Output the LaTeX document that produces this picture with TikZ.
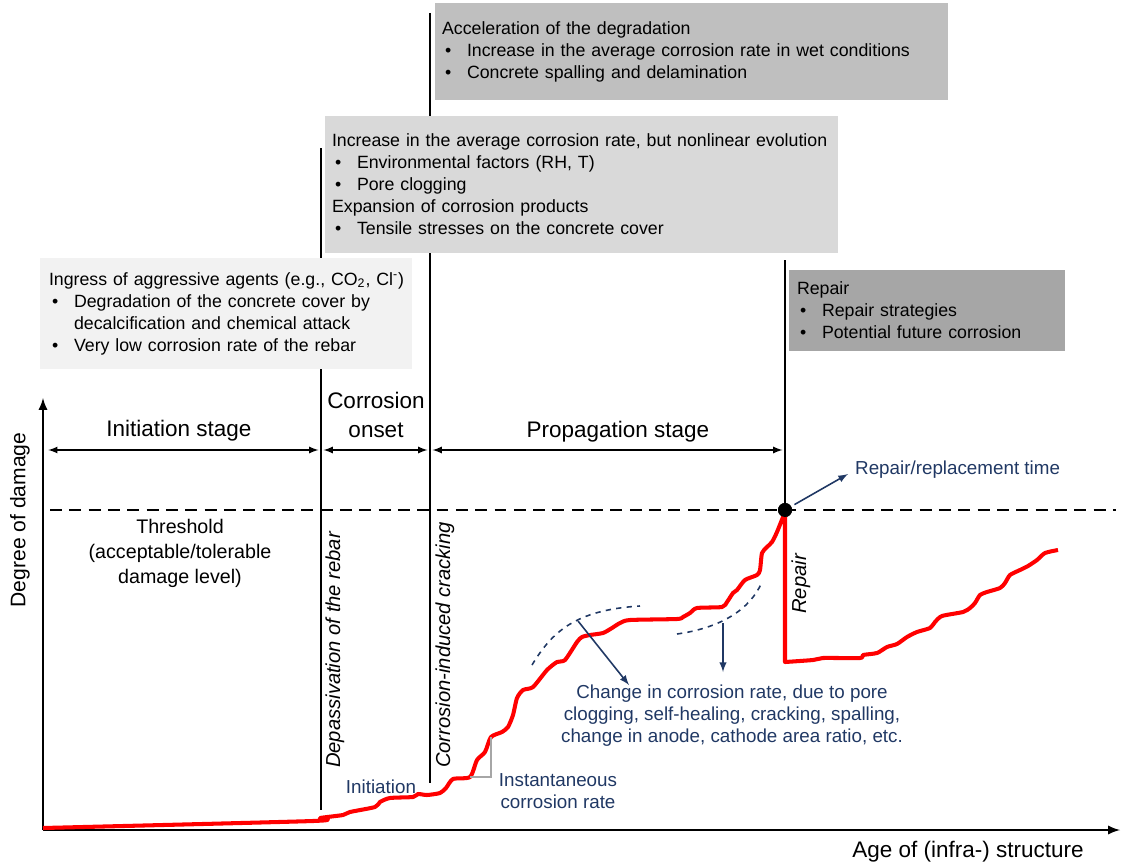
\documentclass[tikz,border=0pt]{standalone}
\usepackage{fontspec}
\setmainfont{Liberation Sans}
\usepackage{tikz}
\usetikzlibrary{arrows,positioning}
\setlength{\parindent}{0pt}
\hyphenpenalty=10000
\definecolor{navy}{HTML}{203864}
\definecolor{paleA}{HTML}{F2F2F2}
\definecolor{paleB}{HTML}{D9D9D9}
\definecolor{paleC}{HTML}{BFBFBF}
\definecolor{paleD}{HTML}{A6A6A6}
\tikzstyle{info} = [rectangle, align=left, inner ysep=0pt,
    font=\fontsize{10.1}{12.5}\selectfont]
\tikzstyle{stage} = [align=center, font=\fontsize{12.8}{16}\selectfont]
\tikzstyle{note} = [align=center, text=navy, font=\fontsize{10.7}{12.5}\selectfont]
\tikzstyle{event} = [rotate=90, font=\itshape\fontsize{11.5}{14}\selectfont]
\tikzstyle{limit} = [draw, line width=1pt]
\tikzstyle{axis} = [draw, -latex, line width=1.3pt]
\tikzstyle{span} = [draw, latex-latex, line width=0.8pt]
\tikzstyle{pointer} = [draw=navy, -latex, line width=0.9pt]
\tikzstyle{damage} = [draw=red, line width=2.3pt, line join=round]
\newcommand{\bul}[1]{\par\hangindent=0.5cm\hangafter=1\makebox[0.5cm][l]{\hspace{0.06cm}\textbullet}#1}

\begin{document}
\begin{tikzpicture}[x=0.02cm, y=-0.02cm]
    \useasboundingbox (0,0) rectangle (1122,865);
    % Axes
    \coordinate (origin) at (43,830);
    \coordinate (ytop) at (43,398);
    \coordinate (xend) at (1120,830);
    \path [axis] (origin) -- (ytop);
    \path [axis] (origin) -- (xend);
    \node [rotate=90, font=\fontsize{12}{14}\selectfont] (ylab) at (20,520) {Degree of damage};
    \node [font=\fontsize{12.8}{15}\selectfont] (xlab) at (968,852) {Age of (infra-) structure};

    % Threshold and stage limits
    \coordinate (th0) at (50,510);
    \coordinate (th1) at (1116,510);
    \draw [line width=1.1pt, dash pattern=on 6.8pt off 4.2pt] (th0) -- (th1);
    \coordinate (deptop) at (321,148);
    \coordinate (depbot) at (321,810);
    \coordinate (cracktop) at (430,13);
    \coordinate (crackbot) at (430,783);
    \coordinate (reptop) at (785,260);
    \node [circle, fill, inner sep=0pt, minimum size=0.28cm] (rt) at (785,510) {};
    \path [limit] (deptop) -- (depbot);
    \path [limit] (cracktop) -- (crackbot);
    \path [limit] (reptop) -- (rt);

    % Stage spans
    \coordinate (dimy) at (0,450);
    \path [span, shorten <=3pt, shorten >=1.5pt] (ytop |- dimy) -- (deptop |- dimy);
    \path [span, shorten <=1.5pt, shorten >=1.5pt] (deptop |- dimy) -- (cracktop |- dimy);
    \path [span, shorten <=1.5pt, shorten >=1.5pt] (cracktop |- dimy) -- (reptop |- dimy);
    \node [stage] (initst) at (179,431) {Initiation stage};
    \node [stage] (onset) at (376,415) {Corrosion\\onset};
    \node [stage] (propst) at (618,432) {Propagation stage};
    \node [stage, font=\fontsize{11.2}{14.2}\selectfont] (thlab) at (180,553) {Threshold\\(acceptable/tolerable\\damage level)};

    % Boxes
    \node [info, fill=paleC, text width=9.98cm, inner xsep=0.14cm, minimum height=1.94cm] (accel) at (691.5,51.5) {Acceleration of the degradation
        \bul{Increase in the average corrosion rate in wet conditions}
        \bul{Concrete spalling and delamination}};
    \node [info, fill=paleB, text width=9.98cm, inner xsep=0.14cm, minimum height=2.74cm] (increase) at (581.5,184.5) {Increase in the average corrosion rate, but nonlinear evolution
        \bul{Environmental factors (RH, T)}
        \bul{Pore clogging}
        \par Expansion of corrosion products
        \bul{Tensile stresses on the concrete cover}};
    \node [info, fill=paleA, text width=7.08cm, inner xsep=0.18cm, minimum height=2.22cm] (ingress) at (226,313.5) {\mbox{Ingress of aggressive agents (e.g., CO\textsubscript{2}, Cl\textsuperscript{-})}
        \bul{Degradation of the concrete cover by\newline decalcification and chemical attack}
        \bul{Very low corrosion rate of the rebar}};
    \node [info, fill=paleD, text width=5.2cm, inner xsep=0.16cm, minimum height=1.62cm] (repbox) at (927,310.5) {Repair
        \bul{Repair strategies}
        \bul{Potential future corrosion}};

    % Events
    \node [event] (depass) at (335,650) {Depassivation of the rebar};
    \node [event] (cracking) at (445,645) {Corrosion-induced cracking};
    \node [event] (repair) at (801,584) {Repair};

    % Degradation curve
    \draw [damage] plot [smooth, tension=0.4] coordinates {(43,828) (313,821) (320,818) (343,815) (350,812) (375,807) (380,802) (390,798) (413,797) (418,794) (427,795) (440,793) (446,788) (453,779) (470,777) (477,760) (485,752) (491,737) (502,732) (508,727) (513,715) (517,698) (523,690) (533,687) (547,670) (557,662) (565,660) (577,642) (582,637) (590,635) (603,633) (612,628) (620,623) (630,620) (677,619) (683,617) (690,613) (697,608) (722,607) (727,602) (733,593) (737,590) (745,580) (757,575) (760,570) (762,553) (767,547) (772,542) (777,532) (785,512)}
        -- plot [smooth, tension=0.4] coordinates {(785,662) (813,660) (823,658) (860,658) (863,655) (877,653) (887,647) (897,644) (907,637) (917,632) (930,628) (935,622) (942,616) (963,612) (970,608) (975,603) (980,595) (987,592) (1000,588) (1005,583) (1010,575) (1020,570) (1028,566) (1037,560) (1045,553) (1058,550)};
    \node [circle, fill, inner sep=0pt, minimum size=0.28cm] at (rt) {};
    \draw [paleD, line width=1.4pt] (470,777) -- (491,777) -- (491,737);

    % Notes
    \node [note, anchor=west] (rtlab) at (849,470) {Repair/replacement time};
    \node [note] (change) at (732,716) {Change in corrosion rate, due to pore\\clogging, self-healing, cracking, spalling,\\change in anode, cathode area ratio, etc.};
    \node [note] (initlab) at (381,787) {Initiation};
    \node [note] (inst) at (558,791) {Instantaneous\\corrosion rate};
    \draw [navy, dashed, line width=0.9pt] (532,665) .. controls (552,632) and (575,610) .. (640,606);
    \draw [navy, dashed, line width=0.9pt] (677,634) .. controls (720,628) and (750,610) .. (762,582);
    \coordinate (c1) at (578,621);
    \coordinate (c1end) at (629,685);
    \coordinate (c2) at (723,623);
    \coordinate (c2end) at (723,672);
    \coordinate (rtend) at (848,474);
    \path [pointer] (c1) -- (c1end);
    \path [pointer] (c2) -- (c2end);
    \path [pointer, shorten <=2pt] (rt) -- (rtend);
\end{tikzpicture}
\end{document}
